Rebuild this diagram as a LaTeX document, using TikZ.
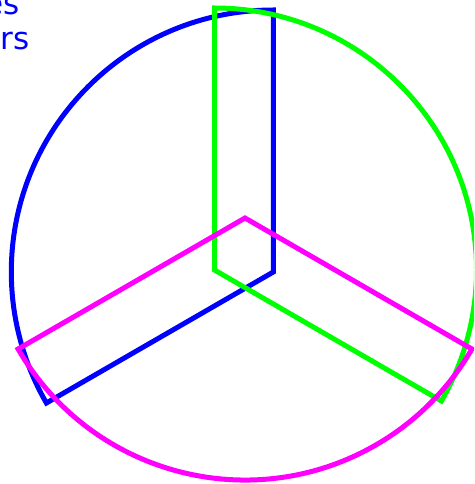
\documentclass[tikz,border=0pt]{standalone}
\usepackage{fontspec}
\setmainfont{DejaVu Sans}
\definecolor{pblue}{RGB}{0,0,255}
\definecolor{pgreen}{RGB}{0,255,0}
\definecolor{pmagenta}{RGB}{255,0,255}
\begin{document}
\begin{tikzpicture}[x=1pt,y=1pt,
  sector/.style={line width=5pt, line join=miter},
  legendtext/.style={anchor=base west, inner sep=0pt, text=pblue, font=\fontsize{31}{35}\selectfont}]
\useasboundingbox (0,-484) rectangle (474,0);
\clip (0,-484) rectangle (474,0);
\coordinate (B) at (273.3,-272);
\coordinate (G) at (214.5,-270);
\coordinate (M) at (245,-218);
\draw[sector, pblue] (B) -- ++(90:262pt) arc[start angle=90, end angle=210, radius=262pt] -- cycle;
\draw[sector, pgreen] (G) -- ++(90:262pt) arc[start angle=90, end angle=-30, radius=262pt] -- cycle;
\draw[sector, pmagenta] (M) -- ++(210:262pt) arc[start angle=210, end angle=330, radius=262pt] -- cycle;
\node[legendtext] (t1) at (-15.7,-15) {es};
\node[legendtext] (t2) at (0.5,-50) {rs};
\end{tikzpicture}
\end{document}
